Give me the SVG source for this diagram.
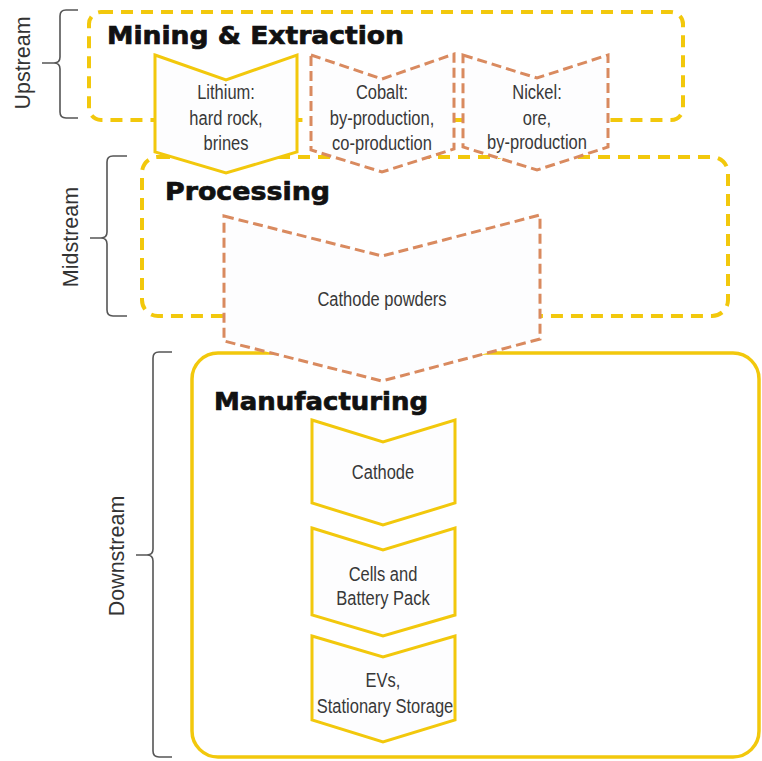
<svg xmlns="http://www.w3.org/2000/svg" width="762" height="761" viewBox="0 0 762 761">
  <style>
    .stage-dash { fill: none; stroke: #F2C80C; stroke-width: 4; stroke-dasharray: 12 8; }
    .stage-solid { fill: none; stroke: #F2C80C; stroke-width: 3.5; }
    .chev-solid { fill: #FDFDFE; stroke: #F2C80C; stroke-width: 3; stroke-linejoin: miter; }
    .chev-dash { fill: #FDFDFE; stroke: #D98A5F; stroke-width: 3; stroke-dasharray: 10 5; }
    .brace { fill: none; stroke: #555; stroke-width: 1.6; }
    .side { font-family: "Liberation Sans", Arial, sans-serif; font-size: 21.5px; fill: #333; text-anchor: middle; }
    .title { font-family: "DejaVu Sans", sans-serif; font-weight: bold; font-size: 25px; fill: #111; stroke: #111; stroke-width: 0.7; }
    .lbl { font-family: "Liberation Sans", Arial, sans-serif; font-size: 16.5px; fill: #383838; text-anchor: middle; }
  </style>

  <!-- stage braces and side labels -->
  <g id="upstream">
    <path class="brace" d="M78,10 L66,10 Q60,10 60,16 L60,57 Q60,63 54,63 L42,63 M54,63 Q60,63 60,69 L60,112 Q60,118 66,118 L78,118"/>
    <text class="side" transform="translate(30,63) rotate(-90)">Upstream</text>
  </g>
  <g id="midstream">
    <path class="brace" d="M127,156 L113,156 Q107,156 107,162 L107,232 Q107,238 101,238 L90,238 M101,238 Q107,238 107,244 L107,310 Q107,316 113,316 L127,316"/>
    <text class="side" transform="translate(78,237) rotate(-90)">Midstream</text>
  </g>
  <g id="downstream">
    <path class="brace" d="M172,352 L159,352 Q153,352 153,358 L153,549 Q153,555 147,555 L136,555 M147,555 Q153,555 153,561 L153,751 Q153,757 159,757 L172,757"/>
    <text class="side" transform="translate(124,556) rotate(-90)">Downstream</text>
  </g>

  <!-- stage frames -->
  <g id="mining-extraction">
    <rect class="stage-dash" x="89" y="12" width="594" height="108" rx="12"/>
    <text class="title" x="107" y="44" textLength="297" lengthAdjust="spacingAndGlyphs">Mining &amp; Extraction</text>
  </g>
  <g id="processing">
    <rect class="stage-dash" x="142" y="157" width="586" height="159" rx="16"/>
    <text class="title" x="165" y="200" textLength="165" lengthAdjust="spacingAndGlyphs">Processing</text>
  </g>
  <g id="manufacturing">
    <rect class="stage-solid" x="192" y="353" width="567" height="404" rx="26"/>
    <text class="title" x="214" y="410" textLength="214" lengthAdjust="spacingAndGlyphs">Manufacturing</text>
  </g>

  <!-- material and product steps (labels drawn slightly tall and narrow) -->
  <g id="lithium">
    <polygon class="chev-solid" points="155,55 226,80 297,55 297,152 226,173 155,152"/>
    <text class="lbl" transform="translate(226,99) scale(1,1.17)">Lithium:</text>
    <text class="lbl" transform="translate(226,125) scale(1,1.17)">hard rock,</text>
    <text class="lbl" transform="translate(226,150) scale(1,1.17)">brines</text>
  </g>
  <g id="cobalt">
    <polygon class="chev-dash" points="311,55 382,79 454,54 454,149 382,172 311,150"/>
    <text class="lbl" transform="translate(382,99) scale(1,1.17)">Cobalt:</text>
    <text class="lbl" transform="translate(382,125) scale(1,1.17)">by-production,</text>
    <text class="lbl" transform="translate(382,150) scale(1,1.17)">co-production</text>
  </g>
  <g id="nickel">
    <polygon class="chev-dash" points="463,55 537,78 608,55 608,147 537,170 463,147"/>
    <text class="lbl" transform="translate(537,99) scale(1,1.17)">Nickel:</text>
    <text class="lbl" transform="translate(537,125) scale(1,1.17)">ore,</text>
    <text class="lbl" transform="translate(537,149) scale(1,1.17)">by-production</text>
  </g>
  <g id="cathode-powders">
    <polygon class="chev-dash" points="224,216 382,256 540,215 540,339 382,381 224,341"/>
    <text class="lbl" transform="translate(382,306) scale(1,1.17)">Cathode powders</text>
  </g>
  <g id="cathode">
    <polygon class="chev-solid" points="312,420 383,442 455,420 455,503 383,525 312,503"/>
    <text class="lbl" transform="translate(383,479) scale(1,1.17)">Cathode</text>
  </g>
  <g id="cells-pack">
    <polygon class="chev-solid" points="312,528 383,550 455,528 455,615 383,636 312,615"/>
    <text class="lbl" transform="translate(383,581) scale(1,1.17)">Cells and</text>
    <text class="lbl" transform="translate(383,605) scale(1,1.17)">Battery Pack</text>
  </g>
  <g id="evs-storage">
    <polygon class="chev-solid" points="312,636 383,657 455,636 455,720 383,742 312,720"/>
    <text class="lbl" transform="translate(383,687) scale(1,1.17)">EVs,</text>
    <text class="lbl" transform="translate(385,713) scale(1,1.17)">Stationary Storage</text>
  </g>

  <g id="connectors"/>
</svg>
